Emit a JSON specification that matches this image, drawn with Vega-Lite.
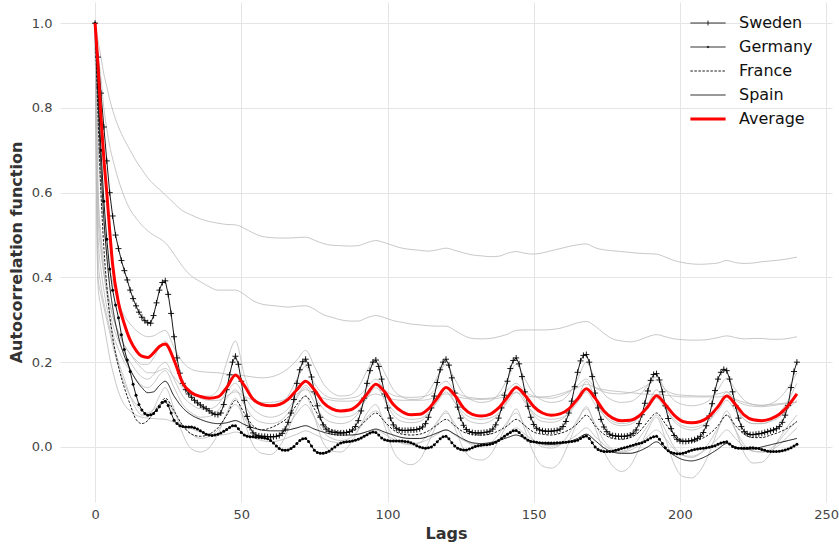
{
  "$schema": "https://vega.github.io/schema/vega-lite/v6.json",
  "width": 772,
  "height": 500,
  "autosize": {"type": "none"},
  "padding": {"left": 60, "top": 2, "right": 7, "bottom": 42},
  "background": "white",
  "config": {
    "view": {"stroke": null},
    "font": "DejaVu Sans",
    "axis": {
      "domain": false,
      "ticks": false,
      "grid": true,
      "gridColor": "#e5e5e5",
      "gridWidth": 1,
      "labelFont": "DejaVu Sans",
      "labelFontSize": 13,
      "labelColor": "#444444",
      "titleFont": "DejaVu Sans",
      "titleFontSize": 16,
      "titleFontWeight": "bold",
      "titleColor": "#333333"
    }
  },
  "datasets": {
    "fine": [
      {"l":0,"Sweden":1,"Germany":1},{"l":1,"Sweden":0.92,"Germany":0.85},{"l":2,"Sweden":0.835,"Germany":0.7},{"l":3,"Sweden":0.755,"Germany":0.58},{"l":4,"Sweden":0.675,"Germany":0.49},{"l":5,"Sweden":0.6,"Germany":0.42},{"l":6,"Sweden":0.545,"Germany":0.37},{"l":7,"Sweden":0.5,"Germany":0.335},{"l":8,"Sweden":0.468,"Germany":0.305},{"l":9,"Sweden":0.44,"Germany":0.265},
      {"l":10,"Sweden":0.416,"Germany":0.23},{"l":11,"Sweden":0.394,"Germany":0.205},{"l":12,"Sweden":0.37,"Germany":0.178},{"l":13,"Sweden":0.35,"Germany":0.148},{"l":14,"Sweden":0.333,"Germany":0.122},{"l":15,"Sweden":0.318,"Germany":0.1},{"l":16,"Sweden":0.306,"Germany":0.087},{"l":17,"Sweden":0.298,"Germany":0.079},{"l":18,"Sweden":0.293,"Germany":0.075},{"l":19,"Sweden":0.292,"Germany":0.076},
      {"l":20,"Sweden":0.31,"Germany":0.079},{"l":21,"Sweden":0.34,"Germany":0.086},{"l":22,"Sweden":0.37,"Germany":0.095},{"l":23,"Sweden":0.388,"Germany":0.105},{"l":24,"Sweden":0.392,"Germany":0.108},{"l":25,"Sweden":0.36,"Germany":0.098},{"l":26,"Sweden":0.315,"Germany":0.08},{"l":27,"Sweden":0.26,"Germany":0.063},{"l":28,"Sweden":0.21,"Germany":0.055},{"l":29,"Sweden":0.174,"Germany":0.05},
      {"l":30,"Sweden":0.15,"Germany":0.048},{"l":31,"Sweden":0.135,"Germany":0.047},{"l":32,"Sweden":0.125,"Germany":0.047},{"l":33,"Sweden":0.117,"Germany":0.047},{"l":34,"Sweden":0.11,"Germany":0.045},{"l":35,"Sweden":0.104,"Germany":0.042},{"l":36,"Sweden":0.099,"Germany":0.038},{"l":37,"Sweden":0.094,"Germany":0.034},{"l":38,"Sweden":0.09,"Germany":0.03},{"l":39,"Sweden":0.085,"Germany":0.028},
      {"l":40,"Sweden":0.08,"Germany":0.027},{"l":41,"Sweden":0.077,"Germany":0.028},{"l":42,"Sweden":0.076,"Germany":0.03},{"l":43,"Sweden":0.08,"Germany":0.033},{"l":44,"Sweden":0.1,"Germany":0.037},{"l":45,"Sweden":0.135,"Germany":0.041},{"l":46,"Sweden":0.17,"Germany":0.046},{"l":47,"Sweden":0.2,"Germany":0.05},{"l":48,"Sweden":0.214,"Germany":0.05},{"l":49,"Sweden":0.195,"Germany":0.043},
      {"l":50,"Sweden":0.155,"Germany":0.034},{"l":51,"Sweden":0.11,"Germany":0.028},{"l":52,"Sweden":0.072,"Germany":0.025},{"l":53,"Sweden":0.046,"Germany":0.024},{"l":54,"Sweden":0.033,"Germany":0.024},{"l":55,"Sweden":0.028,"Germany":0.023},{"l":56,"Sweden":0.026,"Germany":0.023},{"l":57,"Sweden":0.025,"Germany":0.022},{"l":58,"Sweden":0.025,"Germany":0.021},{"l":59,"Sweden":0.024,"Germany":0.019},
      {"l":60,"Sweden":0.024,"Germany":0.015},{"l":61,"Sweden":0.024,"Germany":0.009},{"l":62,"Sweden":0.025,"Germany":0.002},{"l":63,"Sweden":0.027,"Germany":-0.004},{"l":64,"Sweden":0.032,"Germany":-0.007},{"l":65,"Sweden":0.042,"Germany":-0.008},{"l":66,"Sweden":0.058,"Germany":-0.007},{"l":67,"Sweden":0.08,"Germany":-0.004},{"l":68,"Sweden":0.112,"Germany":0.001},{"l":69,"Sweden":0.15,"Germany":0.008},
      {"l":70,"Sweden":0.182,"Germany":0.015},{"l":71,"Sweden":0.201,"Germany":0.019},{"l":72,"Sweden":0.207,"Germany":0.02},{"l":73,"Sweden":0.193,"Germany":0.013},{"l":74,"Sweden":0.165,"Germany":0.002},{"l":75,"Sweden":0.13,"Germany":-0.008},{"l":76,"Sweden":0.097,"Germany":-0.013},{"l":77,"Sweden":0.07,"Germany":-0.015},{"l":78,"Sweden":0.052,"Germany":-0.015},{"l":79,"Sweden":0.042,"Germany":-0.013},
      {"l":80,"Sweden":0.037,"Germany":-0.01},{"l":81,"Sweden":0.035,"Germany":-0.005},{"l":82,"Sweden":0.034,"Germany":0},{"l":83,"Sweden":0.033,"Germany":0.005},{"l":84,"Sweden":0.033,"Germany":0.009},{"l":85,"Sweden":0.033,"Germany":0.011},{"l":86,"Sweden":0.034,"Germany":0.012},{"l":87,"Sweden":0.036,"Germany":0.013},{"l":88,"Sweden":0.04,"Germany":0.014},{"l":89,"Sweden":0.048,"Germany":0.016},
      {"l":90,"Sweden":0.062,"Germany":0.018},{"l":91,"Sweden":0.085,"Germany":0.021},{"l":92,"Sweden":0.115,"Germany":0.025},{"l":93,"Sweden":0.15,"Germany":0.029},{"l":94,"Sweden":0.18,"Germany":0.033},{"l":95,"Sweden":0.2,"Germany":0.035},{"l":96,"Sweden":0.205,"Germany":0.034},{"l":97,"Sweden":0.19,"Germany":0.028},{"l":98,"Sweden":0.16,"Germany":0.021},{"l":99,"Sweden":0.125,"Germany":0.017},
      {"l":100,"Sweden":0.092,"Germany":0.015},{"l":101,"Sweden":0.068,"Germany":0.014},{"l":102,"Sweden":0.052,"Germany":0.014},{"l":103,"Sweden":0.044,"Germany":0.014},{"l":104,"Sweden":0.04,"Germany":0.014},{"l":105,"Sweden":0.039,"Germany":0.014},{"l":106,"Sweden":0.039,"Germany":0.013},{"l":107,"Sweden":0.039,"Germany":0.012},{"l":108,"Sweden":0.04,"Germany":0.01},{"l":109,"Sweden":0.04,"Germany":0.007},
      {"l":110,"Sweden":0.041,"Germany":0.003},{"l":111,"Sweden":0.043,"Germany":0},{"l":112,"Sweden":0.047,"Germany":-0.002},{"l":113,"Sweden":0.055,"Germany":-0.003},{"l":114,"Sweden":0.07,"Germany":-0.002},{"l":115,"Sweden":0.092,"Germany":0},{"l":116,"Sweden":0.12,"Germany":0.005},{"l":117,"Sweden":0.152,"Germany":0.012},{"l":118,"Sweden":0.182,"Germany":0.019},{"l":119,"Sweden":0.2,"Germany":0.024},
      {"l":120,"Sweden":0.207,"Germany":0.025},{"l":121,"Sweden":0.193,"Germany":0.019},{"l":122,"Sweden":0.163,"Germany":0.01},{"l":123,"Sweden":0.127,"Germany":0.002},{"l":124,"Sweden":0.094,"Germany":-0.003},{"l":125,"Sweden":0.068,"Germany":-0.006},{"l":126,"Sweden":0.051,"Germany":-0.007},{"l":127,"Sweden":0.041,"Germany":-0.007},{"l":128,"Sweden":0.036,"Germany":-0.005},{"l":129,"Sweden":0.034,"Germany":-0.002},
      {"l":130,"Sweden":0.033,"Germany":0.001},{"l":131,"Sweden":0.033,"Germany":0.003},{"l":132,"Sweden":0.033,"Germany":0.004},{"l":133,"Sweden":0.034,"Germany":0.005},{"l":134,"Sweden":0.035,"Germany":0.005},{"l":135,"Sweden":0.037,"Germany":0.006},{"l":136,"Sweden":0.042,"Germany":0.008},{"l":137,"Sweden":0.052,"Germany":0.011},{"l":138,"Sweden":0.068,"Germany":0.015},{"l":139,"Sweden":0.092,"Germany":0.02},
      {"l":140,"Sweden":0.122,"Germany":0.025},{"l":141,"Sweden":0.155,"Germany":0.03},{"l":142,"Sweden":0.185,"Germany":0.034},{"l":143,"Sweden":0.204,"Germany":0.038},{"l":144,"Sweden":0.21,"Germany":0.039},{"l":145,"Sweden":0.196,"Germany":0.034},{"l":146,"Sweden":0.166,"Germany":0.027},{"l":147,"Sweden":0.13,"Germany":0.021},{"l":148,"Sweden":0.096,"Germany":0.016},{"l":149,"Sweden":0.07,"Germany":0.013},
      {"l":150,"Sweden":0.053,"Germany":0.012},{"l":151,"Sweden":0.044,"Germany":0.011},{"l":152,"Sweden":0.04,"Germany":0.01},{"l":153,"Sweden":0.038,"Germany":0.009},{"l":154,"Sweden":0.037,"Germany":0.009},{"l":155,"Sweden":0.037,"Germany":0.009},{"l":156,"Sweden":0.037,"Germany":0.009},{"l":157,"Sweden":0.038,"Germany":0.009},{"l":158,"Sweden":0.039,"Germany":0.01},{"l":159,"Sweden":0.042,"Germany":0.01},
      {"l":160,"Sweden":0.048,"Germany":0.011},{"l":161,"Sweden":0.06,"Germany":0.011},{"l":162,"Sweden":0.08,"Germany":0.012},{"l":163,"Sweden":0.108,"Germany":0.013},{"l":164,"Sweden":0.142,"Germany":0.014},{"l":165,"Sweden":0.176,"Germany":0.016},{"l":166,"Sweden":0.203,"Germany":0.02},{"l":167,"Sweden":0.216,"Germany":0.024},{"l":168,"Sweden":0.218,"Germany":0.026},{"l":169,"Sweden":0.2,"Germany":0.02},
      {"l":170,"Sweden":0.166,"Germany":0.01},{"l":171,"Sweden":0.127,"Germany":0},{"l":172,"Sweden":0.092,"Germany":-0.006},{"l":173,"Sweden":0.065,"Germany":-0.009},{"l":174,"Sweden":0.047,"Germany":-0.011},{"l":175,"Sweden":0.036,"Germany":-0.011},{"l":176,"Sweden":0.03,"Germany":-0.011},{"l":177,"Sweden":0.027,"Germany":-0.01},{"l":178,"Sweden":0.026,"Germany":-0.008},{"l":179,"Sweden":0.025,"Germany":-0.006},
      {"l":180,"Sweden":0.025,"Germany":-0.004},{"l":181,"Sweden":0.025,"Germany":-0.002},{"l":182,"Sweden":0.026,"Germany":0},{"l":183,"Sweden":0.028,"Germany":0.002},{"l":184,"Sweden":0.032,"Germany":0.004},{"l":185,"Sweden":0.04,"Germany":0.006},{"l":186,"Sweden":0.055,"Germany":0.008},{"l":187,"Sweden":0.076,"Germany":0.01},{"l":188,"Sweden":0.103,"Germany":0.013},{"l":189,"Sweden":0.132,"Germany":0.017},
      {"l":190,"Sweden":0.157,"Germany":0.021},{"l":191,"Sweden":0.171,"Germany":0.024},{"l":192,"Sweden":0.173,"Germany":0.025},{"l":193,"Sweden":0.158,"Germany":0.018},{"l":194,"Sweden":0.13,"Germany":0.008},{"l":195,"Sweden":0.097,"Germany":-0.002},{"l":196,"Sweden":0.067,"Germany":-0.009},{"l":197,"Sweden":0.043,"Germany":-0.013},{"l":198,"Sweden":0.027,"Germany":-0.015},{"l":199,"Sweden":0.018,"Germany":-0.016},
      {"l":200,"Sweden":0.014,"Germany":-0.016},{"l":201,"Sweden":0.013,"Germany":-0.015},{"l":202,"Sweden":0.013,"Germany":-0.013},{"l":203,"Sweden":0.014,"Germany":-0.01},{"l":204,"Sweden":0.015,"Germany":-0.008},{"l":205,"Sweden":0.017,"Germany":-0.006},{"l":206,"Sweden":0.02,"Germany":-0.005},{"l":207,"Sweden":0.025,"Germany":-0.004},{"l":208,"Sweden":0.034,"Germany":-0.003},{"l":209,"Sweden":0.05,"Germany":-0.002},
      {"l":210,"Sweden":0.073,"Germany":-0.001},{"l":211,"Sweden":0.102,"Germany":0.001},{"l":212,"Sweden":0.133,"Germany":0.003},{"l":213,"Sweden":0.16,"Germany":0.006},{"l":214,"Sweden":0.176,"Germany":0.009},{"l":215,"Sweden":0.183,"Germany":0.011},{"l":216,"Sweden":0.18,"Germany":0.012},{"l":217,"Sweden":0.16,"Germany":0.007},{"l":218,"Sweden":0.13,"Germany":0.001},{"l":219,"Sweden":0.097,"Germany":-0.002},
      {"l":220,"Sweden":0.068,"Germany":-0.003},{"l":221,"Sweden":0.048,"Germany":-0.003},{"l":222,"Sweden":0.036,"Germany":-0.003},{"l":223,"Sweden":0.031,"Germany":-0.003},{"l":224,"Sweden":0.029,"Germany":-0.002},{"l":225,"Sweden":0.029,"Germany":-0.002},{"l":226,"Sweden":0.03,"Germany":-0.003},{"l":227,"Sweden":0.031,"Germany":-0.004},{"l":228,"Sweden":0.032,"Germany":-0.006},{"l":229,"Sweden":0.034,"Germany":-0.008},
      {"l":230,"Sweden":0.036,"Germany":-0.01},{"l":231,"Sweden":0.038,"Germany":-0.011},{"l":232,"Sweden":0.04,"Germany":-0.011},{"l":233,"Sweden":0.043,"Germany":-0.011},{"l":234,"Sweden":0.048,"Germany":-0.01},{"l":235,"Sweden":0.058,"Germany":-0.009},{"l":236,"Sweden":0.075,"Germany":-0.007},{"l":237,"Sweden":0.098,"Germany":-0.005},{"l":238,"Sweden":0.14,"Germany":-0.002},{"l":239,"Sweden":0.178,"Germany":0.002},
      {"l":240,"Sweden":0.2,"Germany":0.006}
    ],
    "coarse": [
      {"l":0,"Average":1,"France":1,"Spain":1,"g1":1,"g2":1,"g3":1,"g4":1,"g5":1,"g6":1,"g7":1,"g8":1,"g9":1,"g10":1},
      {"l":1,"Average":0.9,"France":0.78,"Spain":0.82,"g1":0.96,"g2":0.93,"g3":0.72,"g4":0.62,"g5":0.45,"g6":0.6,"g7":0.4,"g8":0.55,"g9":0.38,"g10":0.5},
      {"l":2,"Average":0.78,"France":0.6,"Spain":0.66,"g1":0.92,"g2":0.87,"g3":0.6,"g4":0.5,"g5":0.38,"g6":0.48,"g7":0.36,"g8":0.46,"g9":0.33,"g10":0.42},
      {"l":3,"Average":0.68,"France":0.47,"Spain":0.54,"g1":0.88,"g2":0.8,"g3":0.52,"g4":0.43,"g5":0.34,"g6":0.41,"g7":0.33,"g8":0.41,"g9":0.29,"g10":0.37},
      {"l":4,"Average":0.6,"France":0.38,"Spain":0.45,"g1":0.85,"g2":0.75,"g3":0.46,"g4":0.38,"g5":0.31,"g6":0.36,"g7":0.3,"g8":0.37,"g9":0.25,"g10":0.33},
      {"l":5,"Average":0.51,"France":0.31,"Spain":0.38,"g1":0.82,"g2":0.71,"g3":0.42,"g4":0.34,"g5":0.28,"g6":0.32,"g7":0.27,"g8":0.34,"g9":0.21,"g10":0.3},
      {"l":6,"Average":0.43,"France":0.26,"Spain":0.33,"g1":0.795,"g2":0.68,"g3":0.39,"g4":0.31,"g5":0.25,"g6":0.29,"g7":0.24,"g8":0.31,"g9":0.18,"g10":0.27},
      {"l":8,"Average":0.34,"France":0.19,"Spain":0.26,"g1":0.755,"g2":0.63,"g3":0.34,"g4":0.27,"g5":0.2,"g6":0.25,"g7":0.19,"g8":0.27,"g9":0.13,"g10":0.23},
      {"l":10,"Average":0.29,"France":0.14,"Spain":0.215,"g1":0.725,"g2":0.59,"g3":0.31,"g4":0.24,"g5":0.16,"g6":0.22,"g7":0.15,"g8":0.24,"g9":0.1,"g10":0.2},
      {"l":12,"Average":0.252,"France":0.1,"Spain":0.183,"g1":0.7,"g2":0.56,"g3":0.29,"g4":0.22,"g5":0.12,"g6":0.2,"g7":0.12,"g8":0.22,"g9":0.085,"g10":0.18},
      {"l":14,"Average":0.228,"France":0.065,"Spain":0.158,"g1":0.675,"g2":0.54,"g3":0.275,"g4":0.205,"g5":0.09,"g6":0.18,"g7":0.1,"g8":0.2,"g9":0.075,"g10":0.16},
      {"l":16,"Average":0.214,"France":0.055,"Spain":0.14,"g1":0.655,"g2":0.523,"g3":0.265,"g4":0.195,"g5":0.075,"g6":0.165,"g7":0.085,"g8":0.185,"g9":0.07,"g10":0.145},
      {"l":18,"Average":0.211,"France":0.062,"Spain":0.128,"g1":0.635,"g2":0.51,"g3":0.26,"g4":0.195,"g5":0.075,"g6":0.16,"g7":0.08,"g8":0.175,"g9":0.068,"g10":0.14},
      {"l":20,"Average":0.222,"France":0.08,"Spain":0.13,"g1":0.62,"g2":0.5,"g3":0.262,"g4":0.21,"g5":0.09,"g6":0.17,"g7":0.088,"g8":0.175,"g9":0.067,"g10":0.15},
      {"l":22,"Average":0.237,"France":0.1,"Spain":0.145,"g1":0.608,"g2":0.492,"g3":0.27,"g4":0.235,"g5":0.12,"g6":0.19,"g7":0.1,"g8":0.18,"g9":0.066,"g10":0.17},
      {"l":24,"Average":0.243,"France":0.115,"Spain":0.155,"g1":0.595,"g2":0.482,"g3":0.275,"g4":0.25,"g5":0.14,"g6":0.2,"g7":0.11,"g8":0.185,"g9":0.065,"g10":0.18},
      {"l":27,"Average":0.205,"France":0.085,"Spain":0.12,"g1":0.575,"g2":0.455,"g3":0.235,"g4":0.2,"g5":0.09,"g6":0.16,"g7":0.08,"g8":0.165,"g9":0.058,"g10":0.14},
      {"l":30,"Average":0.15,"France":0.05,"Spain":0.092,"g1":0.557,"g2":0.425,"g3":0.2,"g4":0.155,"g5":0.03,"g6":0.12,"g7":0.05,"g8":0.14,"g9":0.05,"g10":0.1},
      {"l":33,"Average":0.128,"France":0.03,"Spain":0.075,"g1":0.547,"g2":0.403,"g3":0.183,"g4":0.13,"g5":-0.005,"g6":0.1,"g7":0.03,"g8":0.125,"g9":0.043,"g10":0.08},
      {"l":36,"Average":0.119,"France":0.025,"Spain":0.065,"g1":0.538,"g2":0.39,"g3":0.178,"g4":0.12,"g5":-0.012,"g6":0.09,"g7":0.02,"g8":0.115,"g9":0.035,"g10":0.07},
      {"l":39,"Average":0.115,"France":0.03,"Spain":0.058,"g1":0.532,"g2":0.378,"g3":0.176,"g4":0.12,"g5":-0.002,"g6":0.09,"g7":0.025,"g8":0.11,"g9":0.03,"g10":0.072},
      {"l":42,"Average":0.118,"France":0.045,"Spain":0.055,"g1":0.528,"g2":0.37,"g3":0.175,"g4":0.135,"g5":0.03,"g6":0.1,"g7":0.04,"g8":0.11,"g9":0.028,"g10":0.085},
      {"l":45,"Average":0.14,"France":0.075,"Spain":0.057,"g1":0.525,"g2":0.37,"g3":0.172,"g4":0.2,"g5":0.08,"g6":0.13,"g7":0.075,"g8":0.12,"g9":0.03,"g10":0.115},
      {"l":48,"Average":0.17,"France":0.11,"Spain":0.062,"g1":0.524,"g2":0.37,"g3":0.17,"g4":0.25,"g5":0.115,"g6":0.15,"g7":0.1,"g8":0.13,"g9":0.035,"g10":0.135},
      {"l":51,"Average":0.145,"France":0.08,"Spain":0.053,"g1":0.516,"g2":0.36,"g3":0.168,"g4":0.17,"g5":0.06,"g6":0.12,"g7":0.07,"g8":0.12,"g9":0.03,"g10":0.1},
      {"l":54,"Average":0.113,"France":0.05,"Spain":0.045,"g1":0.505,"g2":0.345,"g3":0.165,"g4":0.115,"g5":0.005,"g6":0.09,"g7":0.035,"g8":0.11,"g9":0.022,"g10":0.07},
      {"l":57,"Average":0.1,"France":0.04,"Spain":0.04,"g1":0.497,"g2":0.337,"g3":0.163,"g4":0.1,"g5":-0.015,"g6":0.075,"g7":0.02,"g8":0.105,"g9":0.015,"g10":0.058},
      {"l":60,"Average":0.097,"France":0.045,"Spain":0.038,"g1":0.494,"g2":0.334,"g3":0.165,"g4":0.098,"g5":-0.018,"g6":0.07,"g7":0.02,"g8":0.105,"g9":0.012,"g10":0.055},
      {"l":63,"Average":0.1,"France":0.055,"Spain":0.038,"g1":0.493,"g2":0.332,"g3":0.172,"g4":0.102,"g5":0,"g6":0.075,"g7":0.03,"g8":0.108,"g9":0.015,"g10":0.06},
      {"l":66,"Average":0.112,"France":0.07,"Spain":0.04,"g1":0.493,"g2":0.33,"g3":0.185,"g4":0.12,"g5":0.04,"g6":0.09,"g7":0.05,"g8":0.115,"g9":0.022,"g10":0.08},
      {"l":69,"Average":0.135,"France":0.1,"Spain":0.045,"g1":0.494,"g2":0.332,"g3":0.205,"g4":0.16,"g5":0.09,"g6":0.12,"g7":0.08,"g8":0.125,"g9":0.03,"g10":0.115},
      {"l":72,"Average":0.155,"France":0.12,"Spain":0.05,"g1":0.495,"g2":0.333,"g3":0.228,"g4":0.19,"g5":0.12,"g6":0.145,"g7":0.1,"g8":0.135,"g9":0.038,"g10":0.14},
      {"l":75,"Average":0.135,"France":0.09,"Spain":0.042,"g1":0.488,"g2":0.325,"g3":0.19,"g4":0.15,"g5":0.07,"g6":0.12,"g7":0.07,"g8":0.125,"g9":0.03,"g10":0.105},
      {"l":78,"Average":0.105,"France":0.055,"Spain":0.035,"g1":0.48,"g2":0.312,"g3":0.15,"g4":0.125,"g5":0.01,"g6":0.09,"g7":0.035,"g8":0.115,"g9":0.02,"g10":0.07},
      {"l":81,"Average":0.09,"France":0.04,"Spain":0.03,"g1":0.476,"g2":0.306,"g3":0.128,"g4":0.115,"g5":-0.01,"g6":0.075,"g7":0.02,"g8":0.11,"g9":0.012,"g10":0.058},
      {"l":84,"Average":0.085,"France":0.035,"Spain":0.028,"g1":0.475,"g2":0.3,"g3":0.12,"g4":0.113,"g5":-0.012,"g6":0.07,"g7":0.015,"g8":0.108,"g9":0.01,"g10":0.055},
      {"l":87,"Average":0.087,"France":0.035,"Spain":0.028,"g1":0.474,"g2":0.297,"g3":0.122,"g4":0.115,"g5":0.005,"g6":0.072,"g7":0.02,"g8":0.108,"g9":0.012,"g10":0.06},
      {"l":90,"Average":0.1,"France":0.045,"Spain":0.03,"g1":0.475,"g2":0.297,"g3":0.14,"g4":0.12,"g5":0.04,"g6":0.085,"g7":0.04,"g8":0.11,"g9":0.02,"g10":0.08},
      {"l":93,"Average":0.125,"France":0.065,"Spain":0.036,"g1":0.482,"g2":0.305,"g3":0.18,"g4":0.14,"g5":0.08,"g6":0.115,"g7":0.07,"g8":0.118,"g9":0.03,"g10":0.12},
      {"l":96,"Average":0.148,"France":0.08,"Spain":0.042,"g1":0.487,"g2":0.31,"g3":0.21,"g4":0.16,"g5":0.1,"g6":0.14,"g7":0.085,"g8":0.125,"g9":0.04,"g10":0.15},
      {"l":99,"Average":0.13,"France":0.06,"Spain":0.035,"g1":0.482,"g2":0.305,"g3":0.175,"g4":0.135,"g5":0.05,"g6":0.115,"g7":0.06,"g8":0.118,"g9":0.03,"g10":0.11},
      {"l":102,"Average":0.1,"France":0.04,"Spain":0.028,"g1":0.475,"g2":0.298,"g3":0.135,"g4":0.122,"g5":-0.01,"g6":0.085,"g7":0.025,"g8":0.112,"g9":0.018,"g10":0.075},
      {"l":105,"Average":0.083,"France":0.03,"Spain":0.022,"g1":0.469,"g2":0.294,"g3":0.118,"g4":0.118,"g5":-0.035,"g6":0.07,"g7":0.008,"g8":0.11,"g9":0.01,"g10":0.06},
      {"l":108,"Average":0.076,"France":0.028,"Spain":0.02,"g1":0.466,"g2":0.29,"g3":0.112,"g4":0.117,"g5":-0.042,"g6":0.065,"g7":0.005,"g8":0.11,"g9":0.008,"g10":0.057},
      {"l":111,"Average":0.077,"France":0.03,"Spain":0.02,"g1":0.464,"g2":0.288,"g3":0.113,"g4":0.118,"g5":-0.03,"g6":0.067,"g7":0.01,"g8":0.11,"g9":0.01,"g10":0.06},
      {"l":114,"Average":0.09,"France":0.038,"Spain":0.025,"g1":0.462,"g2":0.286,"g3":0.13,"g4":0.122,"g5":0.01,"g6":0.08,"g7":0.03,"g8":0.112,"g9":0.018,"g10":0.078},
      {"l":117,"Average":0.115,"France":0.052,"Spain":0.033,"g1":0.465,"g2":0.285,"g3":0.165,"g4":0.14,"g5":0.055,"g6":0.105,"g7":0.06,"g8":0.12,"g9":0.03,"g10":0.11},
      {"l":120,"Average":0.14,"France":0.065,"Spain":0.04,"g1":0.469,"g2":0.285,"g3":0.195,"g4":0.155,"g5":0.085,"g6":0.13,"g7":0.08,"g8":0.125,"g9":0.04,"g10":0.14},
      {"l":123,"Average":0.122,"France":0.05,"Spain":0.03,"g1":0.464,"g2":0.275,"g3":0.16,"g4":0.132,"g5":0.045,"g6":0.105,"g7":0.055,"g8":0.12,"g9":0.028,"g10":0.105},
      {"l":126,"Average":0.092,"France":0.035,"Spain":0.018,"g1":0.458,"g2":0.263,"g3":0.125,"g4":0.12,"g5":-0.005,"g6":0.08,"g7":0.02,"g8":0.115,"g9":0.015,"g10":0.072},
      {"l":129,"Average":0.077,"France":0.03,"Spain":0.01,"g1":0.453,"g2":0.256,"g3":0.11,"g4":0.116,"g5":-0.027,"g6":0.068,"g7":0.005,"g8":0.113,"g9":0.008,"g10":0.058},
      {"l":132,"Average":0.073,"France":0.028,"Spain":0.008,"g1":0.451,"g2":0.255,"g3":0.105,"g4":0.114,"g5":-0.031,"g6":0.065,"g7":0.002,"g8":0.112,"g9":0.006,"g10":0.055},
      {"l":135,"Average":0.077,"France":0.03,"Spain":0.01,"g1":0.449,"g2":0.256,"g3":0.108,"g4":0.115,"g5":-0.02,"g6":0.068,"g7":0.008,"g8":0.113,"g9":0.008,"g10":0.06},
      {"l":138,"Average":0.092,"France":0.038,"Spain":0.015,"g1":0.45,"g2":0.26,"g3":0.125,"g4":0.12,"g5":0.015,"g6":0.08,"g7":0.03,"g8":0.115,"g9":0.018,"g10":0.078},
      {"l":141,"Average":0.117,"France":0.05,"Spain":0.022,"g1":0.457,"g2":0.266,"g3":0.16,"g4":0.135,"g5":0.055,"g6":0.105,"g7":0.06,"g8":0.12,"g9":0.032,"g10":0.11},
      {"l":144,"Average":0.14,"France":0.065,"Spain":0.028,"g1":0.461,"g2":0.275,"g3":0.195,"g4":0.15,"g5":0.09,"g6":0.13,"g7":0.08,"g8":0.128,"g9":0.045,"g10":0.145},
      {"l":147,"Average":0.122,"France":0.05,"Spain":0.02,"g1":0.457,"g2":0.276,"g3":0.16,"g4":0.13,"g5":0.04,"g6":0.105,"g7":0.05,"g8":0.122,"g9":0.03,"g10":0.11},
      {"l":150,"Average":0.095,"France":0.035,"Spain":0.012,"g1":0.455,"g2":0.276,"g3":0.125,"g4":0.12,"g5":-0.015,"g6":0.08,"g7":0.015,"g8":0.118,"g9":0.015,"g10":0.075},
      {"l":153,"Average":0.08,"France":0.03,"Spain":0.008,"g1":0.458,"g2":0.276,"g3":0.11,"g4":0.116,"g5":-0.045,"g6":0.068,"g7":0,"g8":0.118,"g9":0.005,"g10":0.06},
      {"l":156,"Average":0.075,"France":0.028,"Spain":0.006,"g1":0.463,"g2":0.277,"g3":0.105,"g4":0.115,"g5":-0.05,"g6":0.065,"g7":-0.003,"g8":0.12,"g9":0.002,"g10":0.058},
      {"l":159,"Average":0.078,"France":0.032,"Spain":0.008,"g1":0.468,"g2":0.28,"g3":0.108,"g4":0.12,"g5":-0.035,"g6":0.068,"g7":0.005,"g8":0.125,"g9":0.005,"g10":0.063},
      {"l":162,"Average":0.09,"France":0.04,"Spain":0.012,"g1":0.473,"g2":0.286,"g3":0.125,"g4":0.13,"g5":0.01,"g6":0.08,"g7":0.03,"g8":0.132,"g9":0.015,"g10":0.08},
      {"l":165,"Average":0.113,"France":0.055,"Spain":0.02,"g1":0.477,"g2":0.293,"g3":0.16,"g4":0.145,"g5":0.06,"g6":0.105,"g7":0.065,"g8":0.14,"g9":0.03,"g10":0.115},
      {"l":168,"Average":0.137,"France":0.075,"Spain":0.03,"g1":0.479,"g2":0.296,"g3":0.2,"g4":0.16,"g5":0.095,"g6":0.13,"g7":0.09,"g8":0.148,"g9":0.045,"g10":0.155},
      {"l":171,"Average":0.115,"France":0.05,"Spain":0.015,"g1":0.47,"g2":0.285,"g3":0.16,"g4":0.14,"g5":0.045,"g6":0.1,"g7":0.055,"g8":0.14,"g9":0.025,"g10":0.115},
      {"l":174,"Average":0.085,"France":0.03,"Spain":-0.002,"g1":0.465,"g2":0.268,"g3":0.125,"g4":0.13,"g5":-0.01,"g6":0.075,"g7":0.015,"g8":0.135,"g9":0.005,"g10":0.075},
      {"l":177,"Average":0.068,"France":0.02,"Spain":-0.012,"g1":0.463,"g2":0.255,"g3":0.11,"g4":0.126,"g5":-0.045,"g6":0.06,"g7":-0.005,"g8":0.132,"g9":-0.008,"g10":0.055},
      {"l":180,"Average":0.062,"France":0.018,"Spain":-0.015,"g1":0.461,"g2":0.25,"g3":0.105,"g4":0.125,"g5":-0.058,"g6":0.055,"g7":-0.01,"g8":0.13,"g9":-0.012,"g10":0.05},
      {"l":183,"Average":0.063,"France":0.022,"Spain":-0.015,"g1":0.459,"g2":0.248,"g3":0.107,"g4":0.128,"g5":-0.045,"g6":0.058,"g7":-0.003,"g8":0.128,"g9":-0.008,"g10":0.053},
      {"l":186,"Average":0.073,"France":0.035,"Spain":-0.01,"g1":0.457,"g2":0.252,"g3":0.12,"g4":0.135,"g5":-0.005,"g6":0.07,"g7":0.02,"g8":0.126,"g9":0.005,"g10":0.07},
      {"l":189,"Average":0.095,"France":0.06,"Spain":0,"g1":0.456,"g2":0.26,"g3":0.145,"g4":0.147,"g5":0.04,"g6":0.09,"g7":0.05,"g8":0.124,"g9":0.025,"g10":0.1},
      {"l":192,"Average":0.121,"France":0.08,"Spain":0.012,"g1":0.455,"g2":0.265,"g3":0.165,"g4":0.158,"g5":0.07,"g6":0.115,"g7":0.075,"g8":0.124,"g9":0.04,"g10":0.135},
      {"l":195,"Average":0.1,"France":0.055,"Spain":-0.005,"g1":0.448,"g2":0.26,"g3":0.135,"g4":0.135,"g5":0.02,"g6":0.09,"g7":0.04,"g8":0.122,"g9":0.02,"g10":0.095},
      {"l":198,"Average":0.075,"France":0.03,"Spain":-0.02,"g1":0.44,"g2":0.255,"g3":0.11,"g4":0.125,"g5":-0.04,"g6":0.065,"g7":0,"g8":0.12,"g9":-0.005,"g10":0.06},
      {"l":201,"Average":0.06,"France":0.015,"Spain":-0.03,"g1":0.435,"g2":0.253,"g3":0.1,"g4":0.122,"g5":-0.07,"g6":0.05,"g7":-0.02,"g8":0.118,"g9":-0.02,"g10":0.045},
      {"l":204,"Average":0.057,"France":0.012,"Spain":-0.033,"g1":0.432,"g2":0.252,"g3":0.097,"g4":0.121,"g5":-0.073,"g6":0.046,"g7":-0.025,"g8":0.118,"g9":-0.022,"g10":0.04},
      {"l":207,"Average":0.06,"France":0.018,"Spain":-0.028,"g1":0.431,"g2":0.252,"g3":0.1,"g4":0.12,"g5":-0.055,"g6":0.05,"g7":-0.015,"g8":0.118,"g9":-0.015,"g10":0.045},
      {"l":210,"Average":0.072,"France":0.03,"Spain":-0.018,"g1":0.432,"g2":0.254,"g3":0.11,"g4":0.12,"g5":-0.015,"g6":0.062,"g7":0.01,"g8":0.118,"g9":0,"g10":0.062},
      {"l":213,"Average":0.095,"France":0.05,"Spain":-0.005,"g1":0.434,"g2":0.258,"g3":0.135,"g4":0.125,"g5":0.04,"g6":0.085,"g7":0.045,"g8":0.118,"g9":0.02,"g10":0.095},
      {"l":216,"Average":0.12,"France":0.075,"Spain":0.008,"g1":0.44,"g2":0.262,"g3":0.162,"g4":0.13,"g5":0.085,"g6":0.11,"g7":0.075,"g8":0.12,"g9":0.04,"g10":0.13},
      {"l":219,"Average":0.1,"France":0.05,"Spain":0,"g1":0.435,"g2":0.258,"g3":0.135,"g4":0.11,"g5":0.04,"g6":0.085,"g7":0.04,"g8":0.112,"g9":0.02,"g10":0.095},
      {"l":222,"Average":0.075,"France":0.03,"Spain":-0.005,"g1":0.433,"g2":0.255,"g3":0.11,"g4":0.1,"g5":-0.015,"g6":0.065,"g7":0.005,"g8":0.105,"g9":0,"g10":0.065},
      {"l":225,"Average":0.064,"France":0.022,"Spain":-0.005,"g1":0.434,"g2":0.256,"g3":0.1,"g4":0.096,"g5":-0.038,"g6":0.055,"g7":-0.01,"g8":0.1,"g9":-0.01,"g10":0.055},
      {"l":228,"Average":0.062,"France":0.022,"Spain":0,"g1":0.437,"g2":0.256,"g3":0.098,"g4":0.095,"g5":-0.036,"g6":0.055,"g7":-0.012,"g8":0.098,"g9":-0.012,"g10":0.055},
      {"l":231,"Average":0.066,"France":0.028,"Spain":0.005,"g1":0.439,"g2":0.254,"g3":0.102,"g4":0.097,"g5":-0.015,"g6":0.06,"g7":-0.005,"g8":0.1,"g9":-0.008,"g10":0.062},
      {"l":234,"Average":0.077,"France":0.035,"Spain":0.01,"g1":0.441,"g2":0.254,"g3":0.115,"g4":0.1,"g5":0.02,"g6":0.07,"g7":0.015,"g8":0.102,"g9":0.005,"g10":0.08},
      {"l":237,"Average":0.097,"France":0.045,"Spain":0.015,"g1":0.444,"g2":0.256,"g3":0.14,"g4":0.103,"g5":0.05,"g6":0.09,"g7":0.04,"g8":0.104,"g9":0.025,"g10":0.11},
      {"l":240,"Average":0.125,"France":0.06,"Spain":0.02,"g1":0.448,"g2":0.26,"g3":0.175,"g4":0.105,"g5":0.075,"g6":0.11,"g7":0.06,"g8":0.106,"g9":0.045,"g10":0.15}
    ]
  },
  "encoding": {
    "x": {
      "field": "l",
      "type": "quantitative",
      "scale": {"domain": [-12, 252], "nice": false, "zero": false},
      "axis": {"values": [0, 50, 100, 150, 200, 250], "title": "Lags", "labelPadding": 6, "titlePadding": 4}
    },
    "y": {
      "field": "v",
      "type": "quantitative",
      "scale": {"domain": [-0.13, 1.05], "nice": false, "zero": false},
      "axis": {"values": [0, 0.2, 0.4, 0.6, 0.8, 1], "format": ".1f", "title": "Autocorrelation function", "labelPadding": 8, "titlePadding": 7}
    }
  },
  "layer": [
    {
      "data": {"name": "coarse"},
      "transform": [{"fold": ["g1", "g2", "g3", "g4", "g5", "g6", "g7", "g8", "g9", "g10"], "as": ["c", "v"]}],
      "mark": {"type": "line", "color": "#bababa", "strokeWidth": 0.8, "interpolate": "monotone"},
      "encoding": {"detail": {"field": "c", "type": "nominal"}}
    },
    {
      "data": {"name": "coarse"},
      "transform": [{"fold": ["France", "Spain"], "as": ["c", "v"]}],
      "mark": {"type": "line", "strokeWidth": 0.9, "interpolate": "monotone"},
      "encoding": {
        "color": {
          "field": "c", "type": "nominal",
          "scale": {"domain": ["Sweden", "Germany", "France", "Spain", "Average"], "range": ["#000000", "#000000", "#000000", "#000000", "#ff0000"]},
          "legend": {
            "title": null, "orient": "none", "legendX": 640, "legendY": 13, "padding": 0,
            "symbolSize": 64, "labelOffset": 23, "labelFontSize": 16, "labelFont": "DejaVu Sans", "labelColor": "#111111", "rowPadding": 8,
            "encode": {"symbols": {"update": {
              "shape": {"signal": "datum.value === 'Sweden' ? 'M-4.4,0H4.4M0,-0.6V0.6' : datum.value === 'Germany' ? 'M-4.4,0H4.4M-0.2,0A0.2,0.2,0,1,0,0.2,0A0.2,0.2,0,1,0,-0.2,0' : 'M-4.4,0H4.4'"},
              "strokeDash": {"signal": "datum.value === 'France' ? [2.5, 1.5] : [1, 0]"},
              "strokeWidth": {"signal": "datum.value === 'Average' ? 3 : 0.9"}
            }}}
          }
        },
        "strokeDash": {
          "field": "c", "type": "nominal",
          "scale": {"domain": ["Sweden", "Germany", "France", "Spain", "Average"], "range": [[1, 0], [1, 0], [2.5, 1.5], [1, 0], [1, 0]]},
          "legend": null
        }
      }
    },
    {
      "data": {"name": "fine"},
      "transform": [{"fold": ["Sweden", "Germany"], "as": ["c", "v"]}],
      "mark": {"type": "line", "strokeWidth": 0.9},
      "encoding": {
        "color": {"field": "c", "type": "nominal"}
      }
    },
    {
      "data": {"name": "fine"},
      "transform": [{"fold": ["Sweden"], "as": ["c", "v"]}],
      "mark": {"type": "point", "shape": "M-1,0H1M0,-1V1", "size": 36, "filled": false, "color": "#000000", "strokeWidth": 0.9, "opacity": 1}
    },
    {
      "data": {"name": "fine"},
      "transform": [{"fold": ["Germany"], "as": ["c", "v"]}],
      "mark": {"type": "point", "shape": "circle", "size": 9, "filled": true, "color": "#000000", "opacity": 1}
    },
    {
      "data": {"name": "coarse"},
      "transform": [{"fold": ["Average"], "as": ["c", "v"]}],
      "mark": {"type": "line", "strokeWidth": 3, "interpolate": "monotone"},
      "encoding": {
        "color": {"field": "c", "type": "nominal"}
      }
    }
  ]
}
